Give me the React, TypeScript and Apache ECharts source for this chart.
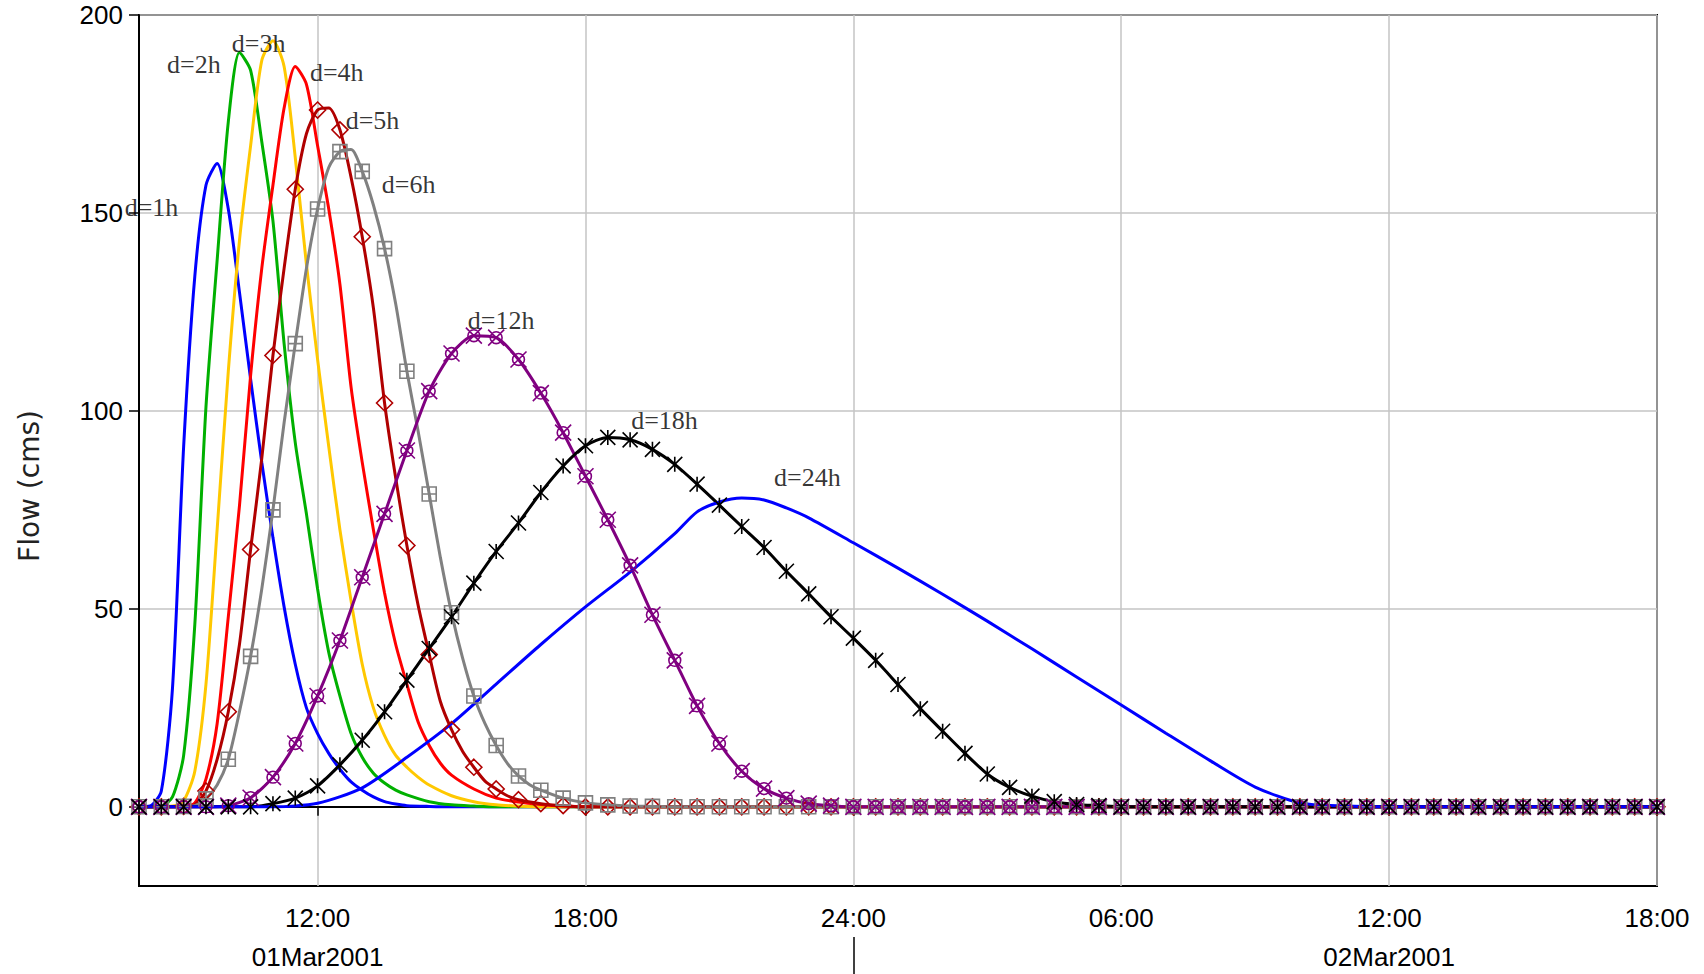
import React, { useEffect, useRef } from 'react';
import * as echarts from 'echarts';

// ---- axis ticks / labels ----
const xTickHours = [12, 18, 24, 30, 36, 42];
const xTickLabels = ['12:00', '18:00', '24:00', '06:00', '12:00', '18:00'];
const dateHours = [12, 36];
const dateLabels = ['01Mar2001', '02Mar2001'];
const dayBreakHours = [24];
const yTicks = [0, 50, 100, 150, 200];

// ---- series (time in hours from 01Mar2001 00:00, flow in cms) ----
const t1h = [8, 8.25, 8.5, 8.75, 9, 9.25, 9.5, 9.75, 10, 10.25, 10.5, 10.75, 11, 11.25, 11.5, 11.75, 12, 12.25, 12.5, 12.75, 13, 13.25, 13.5, 13.75, 14, 14.5, 15];
const q1h = [0, 0.2, 4, 30, 91, 134, 157, 162.5, 151, 130, 108, 87, 68, 50.5, 36, 25, 18.5, 13.5, 9.5, 6.3, 4.2, 2.5, 1.3, 0.7, 0.3, 0.1, 0];

const t2h = [8, 8.5, 8.75, 9, 9.25, 9.5, 9.75, 10, 10.25, 10.5, 10.75, 11, 11.25, 11.5, 11.75, 12, 12.25, 12.5, 12.75, 13, 13.25, 13.5, 13.75, 14, 14.5, 15, 15.5, 16];
const q2h = [0, 0.2, 2.5, 13, 46, 101, 138, 173, 190.5, 186, 168, 148, 117, 92, 74, 55, 39, 28, 18.5, 12.5, 8.5, 6, 4.2, 3, 1.3, 0.5, 0.2, 0];

const t3h = [8, 8.75, 9, 9.25, 9.5, 9.75, 10, 10.25, 10.5, 10.75, 11, 11.25, 11.5, 11.75, 12, 12.25, 12.5, 12.75, 13, 13.25, 13.5, 13.75, 14, 14.25, 14.5, 15, 15.5, 16, 16.5, 17];
const q3h = [0, 0.2, 1.5, 9, 31, 70, 110, 143, 167, 188.5, 193.5, 187, 164, 137, 113, 91, 70, 52, 36, 25, 18, 13, 10, 7.5, 5.5, 2.8, 1.3, 0.5, 0.2, 0];

const t4h = [8, 9, 9.25, 9.5, 9.75, 10, 10.25, 10.5, 10.75, 11, 11.25, 11.5, 11.75, 12, 12.25, 12.5, 12.75, 13, 13.25, 13.5, 13.75, 14, 14.25, 14.5, 14.75, 15, 15.5, 16, 16.5, 17, 17.5, 18];
const q4h = [0, 0.2, 1, 7, 21, 48, 76, 109, 136, 157, 176.5, 187, 182.5, 167, 151, 132, 106, 87, 70, 54, 41, 31, 21.5, 15.5, 11, 8, 4.5, 2.2, 1.2, 0.6, 0.2, 0];

const t5h = [8, 8.5, 9, 9.25, 9.5, 9.75, 10, 10.25, 10.5, 10.75, 11, 11.25, 11.5, 11.75, 12, 12.25, 12.5, 12.75, 13, 13.25, 13.5, 13.75, 14, 14.25, 14.5, 14.75, 15, 15.25, 15.5, 15.75, 16, 16.25, 16.5, 17, 17.5, 18];
const q5h = [0, 0, 0.1, 0.5, 4, 12, 24, 41, 65, 88, 114, 136, 156, 170, 176, 176.5, 171, 159, 144, 126, 102, 83, 66, 51, 38.5, 26.6, 19.5, 14, 10, 6.5, 4.5, 2.8, 1.8, 0.8, 0.3, 0];

const t6h = [8, 8.5, 9, 9.25, 9.5, 9.75, 10, 10.25, 10.5, 10.75, 11, 11.25, 11.5, 11.75, 12, 12.25, 12.5, 12.75, 13, 13.25, 13.5, 13.75, 14, 14.25, 14.5, 14.75, 15, 15.25, 15.5, 15.75, 16, 16.25, 16.5, 16.75, 17, 17.5, 18, 18.5, 19, 19.5, 20];
const q6h = [0, 0, 0.1, 0.3, 2, 5.5, 12, 24, 38, 55, 75, 97, 117, 136, 151, 161.5, 165.5, 166, 160.5, 152, 141, 127, 110, 95, 79, 63, 49, 37.5, 28, 21, 15.5, 11, 7.8, 5.6, 4.2, 2.2, 1, 0.5, 0.2, 0.1, 0];

const t12h = [8, 8.5, 9, 9.5, 10, 10.5, 11, 11.5, 12, 12.5, 13, 13.5, 14, 14.5, 15, 15.5, 16, 16.5, 17, 17.5, 18, 18.5, 19, 19.5, 20, 20.5, 21, 21.5, 22, 22.5, 23, 23.5, 24];
const q12h = [0, 0, 0, 0, 0.3, 2.3, 7.5, 16, 28, 42, 58, 74, 90, 105, 114.5, 119, 118.5, 113, 104.5, 94.5, 83.5, 72.5, 61, 48.5, 37, 25.5, 16, 9, 4.6, 2.2, 0.8, 0.3, 0];

const t18h = [8, 8.5, 9, 9.5, 10, 10.5, 11, 11.5, 12, 12.5, 13, 13.5, 14, 14.5, 15, 15.5, 16, 16.5, 17, 17.5, 18, 18.5, 19, 19.5, 20, 20.5, 21, 21.5, 22, 22.5, 23, 23.5, 24, 24.5, 25, 25.5, 26, 26.5, 27, 27.5, 28, 28.5, 29, 29.5, 30];
const q18h = [0, 0, 0, 0, 0, 0, 0.8, 2.2, 5.3, 10.6, 16.8, 24, 32, 40, 48, 56.5, 64.5, 71.7, 79.4, 86.1, 91.2, 93.3, 92.7, 90.3, 86.5, 81.5, 76.2, 70.8, 65.5, 59.5, 53.8, 48, 42.6, 37, 30.9, 24.8, 19.1, 13.5, 8.3, 4.9, 2.7, 1.3, 0.6, 0.3, 0];

const t24h = [8, 11, 12, 13, 14, 15, 16, 17, 18, 19, 20, 20.5, 21, 21.5, 22, 22.5, 23, 24, 25, 26, 27, 28, 29, 30, 31, 32, 33, 34, 35, 36];
const q24h = [0, 0, 0.9, 4.8, 12.5, 21, 31, 41, 50.5, 59.3, 69, 74.5, 77, 78, 77.5, 75.5, 73, 66.7, 60.3, 53.7, 46.9, 39.9, 32.8, 25.7, 18.6, 11.6, 5, 1, 0.2, 0];

// ---- curve labels ----
const labelNames = ['d=1h', 'd=2h', 'd=3h', 'd=4h', 'd=5h', 'd=6h', 'd=12h', 'd=18h', 'd=24h'];
const labelTimes = [8.28, 9.23, 10.68, 12.43, 13.23, 14.04, 16.11, 19.77, 22.97];
const labelValues = [151.3, 187.5, 192.8, 185.6, 173.3, 157.1, 122.8, 97.5, 83.2];

const END_HOUR = 42;

const DIAMOND = 'path://M5,0 L10,5 L5,10 L0,5 Z';
const SQUARE_PLUS = 'path://M0,0 L10,0 L10,10 L0,10 Z M5,0 L5,10 M0,5 L10,5';
const CIRCLE_X = 'path://M8.7,5 A3.7,3.7 0 1 1 1.3,5 A3.7,3.7 0 1 1 8.7,5 Z M0,0 L10,10 M10,0 L0,10';
const STAR = 'path://M0,0 L10,10 M10,0 L0,10 M5,0 L5,10';

function withZeroTail(times: number[], vals: number[]) {
  const t = times.slice();
  const v = vals.slice();
  const last = t[t.length - 1];
  for (let x = last + 0.5; x <= END_HOUR + 1e-9; x += 0.5) {
    t.push(x);
    v.push(0);
  }
  return [t, v];
}

function makeLine(name: string, times: number[], vals: number[], color: string, marker?: string, size = 15) {
  const [t, v] = withZeroTail(times, vals);
  return {
    type: 'line',
    name,
    smooth: 0.25,
    showAllSymbol: true,
    symbolSize: size,
    lineStyle: { color, width: 3 },
    itemStyle: { color: 'rgba(0,0,0,0)', borderColor: color, borderWidth: 1.6 },
    emphasis: { disabled: true },
    silent: true,
    data: t.map((x, i) => ({
      value: [x, v[i]],
      symbol: marker && Math.abs(x * 2 - Math.round(x * 2)) < 1e-9 ? marker : 'none',
    })),
  };
}

export default function App() {
  const ref = useRef<HTMLDivElement>(null);
  useEffect(() => {
    if (!ref.current) return;
    const chart = echarts.init(ref.current, undefined, { renderer: 'svg' });
    const axisFont = { fontFamily: 'Liberation Sans', fontSize: 26, color: '#000' };
    chart.setOption({
      animation: false,
      backgroundColor: '#fff',
      grid: { left: 139, right: 47, top: 15, bottom: 88, show: true, borderColor: '#000', borderWidth: 2 },
      xAxis: [
        {
          type: 'value',
          min: 8,
          max: END_HOUR,
          axisLine: { show: true, lineStyle: { color: '#000', width: 2 } },
          axisTick: { show: true, customValues: xTickHours, length: 9, lineStyle: { color: '#000', width: 1.5 } },
          axisLabel: {
            ...axisFont,
            margin: 19,
            customValues: xTickHours,
            formatter: (val: number) => xTickLabels[xTickHours.indexOf(val)] ?? '',
          },
          splitLine: { show: true, lineStyle: { color: '#c4c4c4', width: 1.5 } },
        },
        {
          type: 'value',
          min: 8,
          max: END_HOUR,
          position: 'bottom',
          offset: 51,
          axisLine: { show: false },
          axisTick: { show: true, customValues: dayBreakHours, length: 37, lineStyle: { color: '#000', width: 1.5 } },
          axisLabel: {
            ...axisFont,
            margin: 7,
            customValues: dateHours,
            formatter: (val: number) => dateLabels[dateHours.indexOf(val)] ?? '',
          },
          splitLine: { show: false },
        },
      ],
      yAxis: {
        type: 'value',
        min: -20,
        max: 200,
        axisLine: { show: true, lineStyle: { color: '#000', width: 2 } },
        axisTick: { show: true, customValues: yTicks, length: 10, lineStyle: { color: '#000', width: 1.5 } },
        axisLabel: { ...axisFont, margin: 16, customValues: yTicks },
        splitLine: { show: true, lineStyle: { color: '#c4c4c4', width: 1.5 } },
      },
      graphic: [
        {
          type: 'text',
          x: 29,
          y: 486,
          rotation: Math.PI / 2,
          style: {
            text: 'Flow (cms)',
            fontFamily: 'DejaVu Sans',
            fontSize: 28,
            fill: '#222',
            align: 'center',
            verticalAlign: 'middle',
          },
        },
      ],
      series: [
        makeLine('d=1h', t1h, q1h, '#0000ff'),
        makeLine('d=2h', t2h, q2h, '#00b000'),
        makeLine('d=3h', t3h, q3h, '#ffc800'),
        makeLine('d=4h', t4h, q4h, '#ff0000'),
        makeLine('d=5h', t5h, q5h, '#b00000', DIAMOND, 16),
        makeLine('d=6h', t6h, q6h, '#808080', SQUARE_PLUS, 14),
        makeLine('d=12h', t12h, q12h, '#800080', CIRCLE_X, 16),
        makeLine('d=18h', t18h, q18h, '#000000', STAR, 15),
        makeLine('d=24h', t24h, q24h, '#0000ff'),
        {
          type: 'scatter',
          symbol: 'circle',
          symbolSize: 1,
          itemStyle: { color: 'rgba(0,0,0,0)' },
          silent: true,
          clip: false,
          z: 20,
          data: labelNames.map((n, i) => ({ name: n, value: [labelTimes[i], labelValues[i]] })),
          label: {
            show: true,
            position: 'inside',
            formatter: '{b}',
            fontFamily: 'Liberation Serif',
            fontSize: 26,
            color: '#000',
          },
        },
      ],
    });
    return () => chart.dispose();
  }, []);
  return (
    <div
      ref={ref}
      style={{ position: 'fixed', left: 0, top: 0, width: 1704, height: 974, background: '#fff' }}
    />
  );
}
